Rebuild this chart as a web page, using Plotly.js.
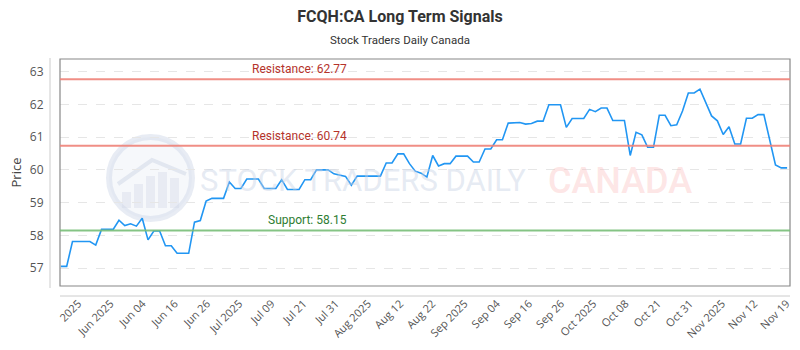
<!DOCTYPE html>
<html>
<head>
<meta charset="utf-8">
<script src="https://cdn.plot.ly/plotly-3.0.1.min.js"></script>
<style>html,body{margin:0;padding:0;background:#fff}#chart{width:800px;height:350px}</style>
</head>
<body>
<div id="chart"></div>
<script>
const prices = [
57.05,57.05,57.81,57.81,57.81,57.81,57.70,58.18,58.18,58.18,
58.46,58.30,58.35,58.28,58.52,57.86,58.13,58.13,57.68,57.68,
57.45,57.45,57.45,58.40,58.45,59.05,59.13,59.13,59.13,59.63,
59.43,59.43,59.72,59.72,59.72,59.43,59.43,59.43,59.70,59.40,
59.40,59.40,59.70,59.70,60.00,60.00,60.00,59.88,59.84,59.80,
59.53,59.81,59.81,59.81,59.81,59.81,60.21,60.21,60.49,60.49,
60.19,59.96,59.90,59.78,60.44,60.12,60.19,60.19,60.42,60.42,
60.42,60.24,60.24,60.64,60.64,60.92,60.92,61.43,61.43,61.45,
61.40,61.42,61.49,61.49,61.99,61.99,61.99,61.30,61.57,61.57,
61.57,61.85,61.78,61.89,61.89,61.51,61.51,61.51,60.44,61.15,
61.07,60.69,60.69,61.67,61.67,61.35,61.38,61.80,62.35,62.35,
62.47,62.05,61.65,61.50,61.08,61.32,60.79,60.79,61.58,61.58,
61.69,61.69,60.90,60.15,60.06,60.06
];
const tickLabels = ["2025","Jun 2025","Jun 04","Jun 16","Jun 26","Jul 2025","Jul 09","Jul 21","Jul 31","Aug 2025","Aug 12","Aug 22","Sep 2025","Sep 04","Sep 16","Sep 26","Oct 2025","Oct 08","Oct 21","Oct 31","Nov 2025","Nov 12","Nov 19"];
const resistanceLevels = [62.77, 60.74];
const supportLevels = [58.15];

const idx = prices.map((_, i) => i);
const firstTick = 3, lastTick = 124.9;
const tickVals = tickLabels.map((_, k) => firstTick + k * (lastTick - firstTick) / (tickLabels.length - 1));

const L = 60, R = 790, T = 59, B = 286;
const px = x => (x - L) / (R - L);
const py = y => (B - y) / (B - T);

const shapes = [];
const annotations = [];
// frame
shapes.push({type:'rect', xref:'paper', yref:'paper', x0:0, x1:1, y0:0, y1:1, line:{color:'#888', width:1.2}, layer:'above'});
// detached axis lines
shapes.push({type:'line', xref:'paper', yref:'paper', x0:px(50), x1:px(50), y0:py(288), y1:py(58), line:{color:'#ccc', width:1}});
shapes.push({type:'line', xref:'paper', yref:'paper', x0:px(60), x1:px(790), y0:py(296), y1:py(296), line:{color:'#ccc', width:1}});
// watermark logo
shapes.push({type:'circle', xref:'paper', yref:'paper', x0:px(109), x1:px(192), y0:py(219), y1:py(137), fillcolor:'rgba(215,222,235,0.22)', line:{color:'rgba(205,213,230,0.45)', width:6}, layer:'below'});
[[122,208,192],[134,208,184],[146,208,176],[158,208,172],[170,208,178]].forEach(b=>{
  shapes.push({type:'rect', xref:'paper', yref:'paper', x0:px(b[0]), x1:px(b[0]+9), y0:py(b[1]), y1:py(b[2]), fillcolor:'rgba(205,213,230,0.35)', line:{width:0}, layer:'below'});
});
shapes.push({type:'path', xref:'paper', yref:'paper', path:`M ${px(118)} ${py(184)} L ${px(152)} ${py(160)} L ${px(186)} ${py(174)}`, line:{color:'rgba(205,213,230,0.5)', width:4}, layer:'below'});

resistanceLevels.forEach(v => {
  shapes.push({type:'line', xref:'paper', yref:'y', x0:0, x1:1, y0:v, y1:v, line:{color:'rgba(238,130,120,0.9)', width:2}});
  annotations.push({xref:'paper', yref:'y', x:px(299), xanchor:'center', y:v, yshift:10, text:'Resistance: ' + v.toFixed(2), showarrow:false, font:{family:'Roboto, sans-serif', size:12, color:'#b5332b'}});
});
supportLevels.forEach(v => {
  shapes.push({type:'line', xref:'paper', yref:'y', x0:0, x1:1, y0:v, y1:v, line:{color:'rgba(120,190,120,0.9)', width:2}});
  annotations.push({xref:'paper', yref:'y', x:px(307), xanchor:'center', y:v, yshift:10, text:'Support: ' + v.toFixed(2), showarrow:false, font:{family:'Roboto, sans-serif', size:12, color:'#2e7d32'}});
});

annotations.push({xref:'paper', yref:'paper', x:px(363), xanchor:'center', y:py(180), yanchor:'middle', text:'STOCK TRADERS DAILY', showarrow:false, font:{family:'Roboto, sans-serif', size:31, color:'rgba(200,210,228,0.45)'}});
annotations.push({xref:'paper', yref:'paper', x:px(620), xanchor:'center', y:py(181), yanchor:'middle', text:'CANADA', showarrow:false, font:{family:'Roboto, sans-serif', size:36, weight:500, color:'rgba(250,190,190,0.4)'}});
annotations.push({xref:'paper', yref:'paper', x:px(400), xanchor:'center', y:py(40), yanchor:'middle', text:'Stock Traders Daily Canada', showarrow:false, font:{family:'Roboto, sans-serif', size:11.5, color:'#333'}});

const trace = {
  x: idx, y: prices, type:'scatter', mode:'lines',
  line:{color:'#2196f3', width:1.6}, hoverinfo:'skip'
};

const layout = {
  width:800, height:350,
  margin:{l:L, r:800-R, t:T, b:350-B},
  paper_bgcolor:'#fff', plot_bgcolor:'#fff',
  title:{text:'<b>FCQH:CA Long Term Signals</b>', x:0.5, xanchor:'center', y:1-16/350, yanchor:'middle', font:{family:'Roboto, sans-serif', size:16, color:'#333'}},
  showlegend:false,
  xaxis:{
    range:[-0.15, 125.5], tickmode:'array', tickvals:tickVals, ticktext:tickLabels,
    tickangle:-45, showgrid:false, zeroline:false, showline:false,
    ticks:'outside', ticklen:6, tickcolor:'rgba(0,0,0,0)',
    tickfont:{family:'Open Sans, sans-serif', size:11, color:'#555'}
  },
  yaxis:{
    range:[56.45, 63.39], tickvals:[57,58,59,60,61,62,63],
    showgrid:true, gridcolor:'#e6e6e6', griddash:'dash', gridwidth:1,
    zeroline:false, showline:false,
    ticks:'outside', ticklen:13, tickcolor:'rgba(0,0,0,0)',
    tickfont:{family:'Open Sans, sans-serif', size:12, color:'#555'},
    title:{text:'Price', standoff:5, font:{family:'Open Sans, sans-serif', size:13, color:'#444'}}
  },
  shapes: shapes,
  annotations: annotations
};

Plotly.newPlot('chart', [trace], layout, {staticPlot:true, displayModeBar:false});
</script>
</body>
</html>
